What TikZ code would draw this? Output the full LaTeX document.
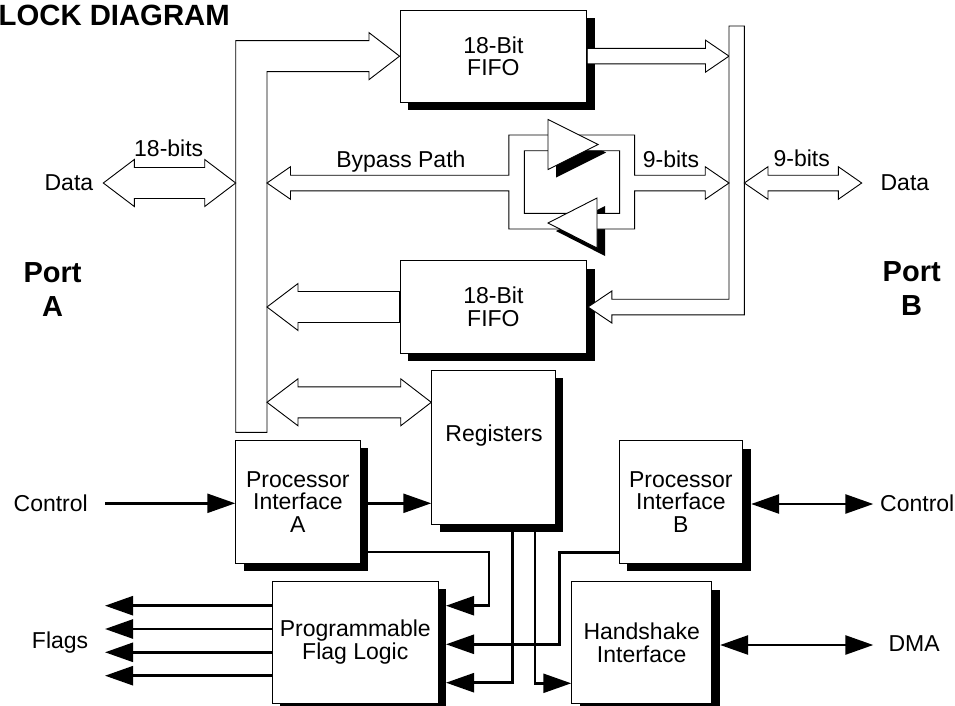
\documentclass[tikz,border=0pt]{standalone}
\usepackage{fontspec}
\setmainfont{Liberation Sans}
\usetikzlibrary{arrows.meta,shadows,calc}
\begin{document}
\begin{tikzpicture}[x=1pt,y=-1pt,
  box/.style={draw=black, line width=0.9pt, fill=white, inner sep=0pt, align=center,
    font=\fontsize{23}{22.5}\selectfont,
    drop shadow={shadow xshift=8pt, shadow yshift=-8pt, fill=black, opacity=1}},
  lbl/.style={font=\fontsize{23}{22.5}\selectfont, inner sep=0pt},
  portlbl/.style={font=\bfseries\fontsize{29}{34}\selectfont, inner sep=0pt, align=center},
  hollow/.style={draw=black, line width=0.9pt, fill=white, line join=miter},
  tri/.style={draw=black, line width=0.9pt, fill=white, line join=miter},
  trishadow/.style={fill=black},
  ctl/.style={line width=2.6pt, -{Triangle[length=28pt,width=19pt]}},
  ctltwo/.style={line width=2.6pt, {Triangle[length=28pt,width=19pt]}-{Triangle[length=28pt,width=19pt]}}
]
\useasboundingbox (0,0) rectangle (955,706);

% ---------- boxes ----------
\node[box, minimum width=186.8pt, minimum height=92.3pt] (f1) at (493.4,56.15) {18-Bit\\FIFO};
\node[box, minimum width=186.8pt, minimum height=92.6pt] (f2) at (493.4,307) {18-Bit\\FIFO};
\node[box, minimum width=123.3pt, minimum height=154pt] (reg) at (493.35,447) {};
\node[box, minimum width=124.3pt, minimum height=123.3pt] (pia) at (297.85,501.65) {\raisebox{-2.5pt}{\parbox{110pt}{\centering Processor\\Interface\\A}}};
\node[box, minimum width=123.7pt, minimum height=122.6pt] (pib) at (680.85,502) {Processor\\Interface\\B};
\node[box, minimum width=166pt, minimum height=122.5pt] (flag) at (355.3,642.25) {Programmable\\Flag Logic};
\node[box, minimum width=140pt, minimum height=121.8pt] (hs) at (641.7,642.6) {Handshake\\Interface};
\node[lbl, anchor=base] (regtxt) at (494,441.7) {Registers};

% ---------- buffer shadows ----------
\fill[trishadow] (556,127.5) -- (556,177.5) -- (606,152.5) -- cycle;
\fill[trishadow] (605,206) -- (605,256) -- (556,231) -- cycle;

% ---------- Port A bus with arrow into upper FIFO ----------
\draw[hollow] (267,432.3) -- (235.7,432.3) -- (235.7,40.65) -- (369,40.65) -- (369,32.65)
  -- (f1.west) -- (369,79.65) -- (369,71.65) -- (267,71.65) -- cycle;

% ---------- Port A data (18 bits) ----------
\coordinate (dataA) at (103.3,183);
\coordinate (busAout) at (235.7,183);
\draw[hollow] (dataA) -- (134.3,159.5) -- (134.3,167.5) -- (204.7,167.5) -- (204.7,159.5)
  -- (busAout) -- (204.7,206.5) -- (204.7,198.5) -- (134.3,198.5) -- (134.3,206.5) -- cycle;

% ---------- Upper FIFO to Port B bus ----------
\draw[hollow] ($(f1.east)+(0,-7.8)$) -- (705.5,48.35) -- (705.5,40.15) -- (729,56.15)
  -- (705.5,72.15) -- (705.5,63.95) -- ($(f1.east)+(0,7.8)$) -- cycle;

% ---------- Port B bus with arrow into lower FIFO ----------
\draw[hollow] (729,299.2) -- (729,26) -- (744.3,26) -- (744.3,314.8) -- (611.8,314.8)
  -- (611.8,323) -- ($(f2.east)+(0.8,0)$) -- (611.8,291) -- (611.8,299.2) -- cycle;

% ---------- Lower FIFO to Port A bus ----------
\draw[hollow] ($(f2.west)+(0,-15.5)$) -- (298,291.5) -- (298,283.5) -- (267,307)
  -- (298,330.5) -- (298,322.5) -- ($(f2.west)+(0,15.5)$) -- cycle;

% ---------- Port A bus <-> Registers ----------
\draw[hollow] (267,402.3) -- (298,378.8) -- (298,386.8) -- (400.7,386.8) -- (400.7,378.8)
  -- (reg.west |- 0,402.3) -- (400.7,425.8) -- (400.7,417.8) -- (298,417.8) -- (298,425.8) -- cycle;

% ---------- Bypass path ----------
\draw[hollow, even odd rule] (267,183) -- (290.5,166.7) -- (290.5,175.2) -- (508.9,175.2)
  -- (508.9,135) -- (634.6,135) -- (634.6,175.2) -- (705.2,175.2) -- (705.2,166.7)
  -- (729,183) -- (705.2,199.3) -- (705.2,190.8) -- (634.6,190.8) -- (634.6,229)
  -- (508.9,229) -- (508.9,190.8) -- (290.5,190.8) -- (290.5,199.3) -- cycle
  (524.3,150.7) rectangle (619.6,213.3);

% ---------- buffers ----------
\draw[tri] (548,119.5) -- (548,169.5) -- (598,144.5) -- cycle;
\draw[tri] (597,198) -- (597,248) -- (548,223) -- cycle;

% ---------- Port B data (9 bits) ----------
\coordinate (busBout) at (744.3,183);
\coordinate (dataB) at (861.7,183);
\draw[hollow] (busBout) -- (768,166.7) -- (768,175.2) -- (838.3,175.2) -- (838.3,166.7)
  -- (dataB) -- (838.3,199.3) -- (838.3,190.8) -- (768,190.8) -- (768,199.3) -- cycle;

% ---------- control connectors ----------
\coordinate (ctlA) at (105,503.3);
\draw[ctl] (ctlA) -- (pia.west |- ctlA);
\draw[ctl] (pia.east |- ctlA) -- (reg.west |- ctlA);

\coordinate (fi1) at (446,605.7);
\coordinate (fi2) at (446,644.3);
\coordinate (fi3) at (446,682.7);
\coordinate (pa1) at (489,552);
\draw[ctl] (pia.east |- pa1) -- (pa1) -- (pa1 |- fi1) -- (fi1);
\coordinate (r1) at (512.7,682.7);
\draw[ctl] (reg.south -| r1) -- (r1) -- (fi3);
\coordinate (r2) at (535,683.3);
\draw[ctl] (reg.south -| r2) -- (r2) -- (hs.west |- r2);
\coordinate (pb1) at (559.3,552.3);
\draw[ctl] (pib.west |- pb1) -- (pb1) -- (pb1 |- fi2) -- (fi2);

\coordinate (fo1) at (105,605.7);
\coordinate (fo2) at (105,629);
\coordinate (fo3) at (105,652.3);
\coordinate (fo4) at (105,675.7);
\draw[ctl] (flag.west |- fo1) -- (fo1);
\draw[ctl] (flag.west |- fo2) -- (fo2);
\draw[ctl] (flag.west |- fo3) -- (fo3);
\draw[ctl] (flag.west |- fo4) -- (fo4);

\coordinate (ctlB) at (873.3,504);
\coordinate (pibR) at ($(pib.east |- ctlB)+(8,0)$);
\draw[ctltwo] (pibR) -- (ctlB);
\coordinate (dmaR) at (873.3,645);
\coordinate (hsR) at ($(hs.east |- dmaR)+(8,0)$);
\draw[ctltwo] (hsR) -- (dmaR);

% ---------- labels ----------
\node[font=\bfseries\fontsize{29.3}{30}\selectfont, anchor=base east, inner sep=0pt] (title) at (230,26) {BLOCK DIAGRAM};
\node[portlbl] (portA) at (52.5,289.5) {Port\\A};
\node[portlbl] (portB) at (911.7,288.5) {Port\\B};
\node[lbl, anchor=base] (tdataA) at (68.9,190.7) {Data};
\node[lbl, anchor=base] (tdataB) at (904.9,190.7) {Data};
\node[lbl, anchor=base] (t18) at (168.7,157) {18-bits};
\node[lbl, anchor=base] (tbyp) at (400.9,167) {Bypass Path};
\node[lbl, anchor=base] (t9a) at (671,167.7) {9-bits};
\node[lbl, anchor=base] (t9b) at (801.7,166.7) {9-bits};
\node[lbl, anchor=base east] (tctlA) at (88,511.5) {Control};
\node[lbl, anchor=base west] (tctlB) at (880,511.7) {Control};
\node[lbl, anchor=base west] (tdma) at (888.3,651.7) {DMA};
\node[lbl, anchor=base east] (tflags) at (88.4,648.5) {Flags};
\end{tikzpicture}
\end{document}
